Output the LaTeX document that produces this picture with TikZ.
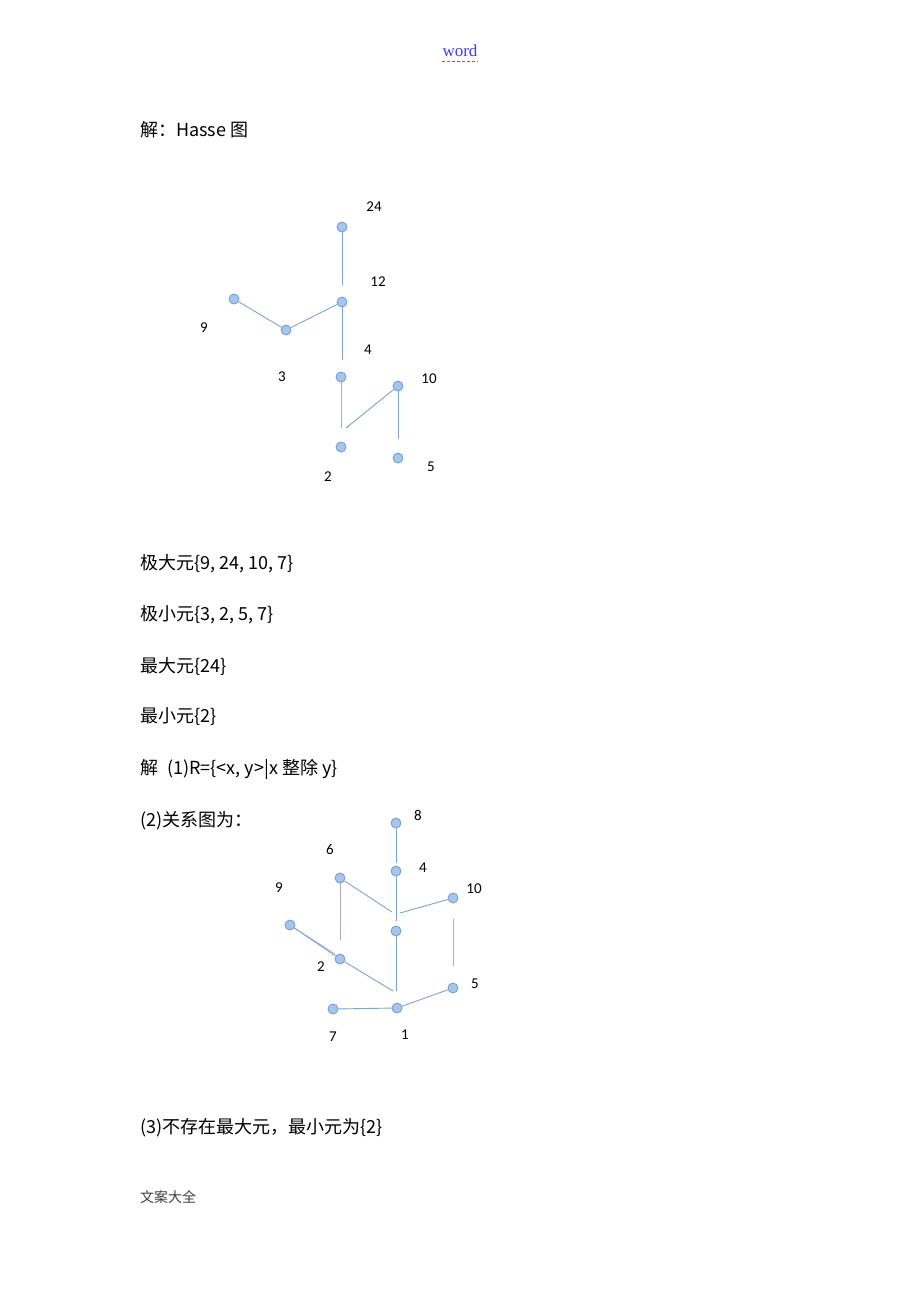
\documentclass[tikz,border=0pt]{standalone}
\usepackage{fontspec}
\setmainfont{Liberation Serif}
\newfontfamily\cjk{Noto Sans CJK SC}
\newfontfamily\lbl{Carlito}
\definecolor{dotfill}{HTML}{A7C4EA}
\definecolor{dotline}{HTML}{6F9AD2}
\definecolor{edgecol}{HTML}{7FA2D0}
\definecolor{pcol}{HTML}{B7A2C8}
\definecolor{linkblue}{RGB}{60,60,240}
\definecolor{linkdash}{RGB}{90,90,240}
\definecolor{footgray}{RGB}{60,60,60}
\begin{document}
\begin{tikzpicture}[x=1pt,y=-1pt,
  dot/.style={circle,draw=dotline,fill=dotfill,line width=0.8pt,minimum size=10pt,inner sep=0pt},
  edge/.style={draw=edgecol,line width=0.9pt},
  pedge/.style={draw=pcol,line width=0.9pt},
  lab/.style={font=\lbl\fontsize{15}{17}\selectfont,text=black,inner sep=0pt},
  txt/.style={font=\cjk\fontsize{18}{21}\selectfont,anchor=west,inner sep=0pt,text=black}]
\useasboundingbox (0,0) rectangle (920,1302);
\fill[white] (0,0) rectangle (920,1302);
% header
\node[font=\fontsize{17}{19}\selectfont,text=linkblue,inner sep=0pt] (hdr) at (460,51) {word};
\coordinate (u1) at (442,61);
\coordinate (u2) at (478,61);
\draw[linkdash,line width=0.8pt,dash pattern=on 3pt off 2pt] (u1) -- (u2);
\node[txt] (t0) at (140,130) {解：Hasse 图};
% Hasse graph 1
\node[dot] (g24) at (342,227) {};
\node[dot] (g12) at (342,302) {};
\node[dot] (g9) at (234,299) {};
\node[dot] (g3) at (286,330) {};
\node[dot] (g4) at (341,377) {};
\node[dot] (g10) at (398,386) {};
\node[dot] (g2) at (341,447) {};
\node[dot] (g5) at (398,458) {};
\coordinate (e24) at (342,285);
\coordinate (e12) at (342,360);
\coordinate (e4) at (341,428);
\coordinate (e2) at (346,428);
\coordinate (e10) at (398,439);
\draw[edge] (g24) -- (e24);
\draw[edge] (g9) -- (g3);
\draw[edge] (g3) -- (g12);
\draw[edge] (g12) -- (e12);
\draw[pedge] (g4) -- (e4);
\draw[edge] (e2) -- (g10);
\draw[edge] (g10) -- (e10);
\node[lab] (l24) at (374,207) {24};
\node[lab] (l12) at (378,282) {12};
\node[lab] (l9) at (204,328) {9};
\node[lab] (l3) at (282,377) {3};
\node[lab] (l4) at (368,350) {4};
\node[lab] (l10) at (429,379) {10};
\node[lab] (l2) at (328,477) {2};
\node[lab] (l5) at (431,467) {5};
% text lines
\node[txt] (t1) at (140,564) {极大元\{9, 24, 10, 7\}};
\node[txt] (t2) at (140,615) {极小元\{3, 2, 5, 7\}};
\node[txt] (t3) at (140,666) {最大元\{24\}};
\node[txt] (t4) at (140,717) {最小元\{2\}};
\node[txt] (t5) at (140,769) {解\hspace{9pt}(1)R=\{<x, y>|x 整除 y\}};
\node[txt] (t6) at (140,821) {(2)关系图为：};
% graph 2
\node[dot] (h8) at (396,823) {};
\node[dot] (h4) at (396,871) {};
\node[dot] (h6) at (340,878) {};
\node[dot] (h9) at (290,925) {};
\node[dot] (hc) at (396,931) {};
\node[dot] (h10) at (453,898) {};
\node[dot] (h2) at (340,959) {};
\node[dot] (h5) at (453,988) {};
\node[dot] (h7) at (333,1009) {};
\node[dot] (h1) at (397,1008) {};
\coordinate (f8) at (396,863);
\coordinate (f4) at (396,921);
\coordinate (f6) at (392,912);
\coordinate (f10) at (400,913);
\coordinate (f6d) at (340,940);
\coordinate (f2) at (393,991);
\coordinate (fc) at (396,991);
\coordinate (f10a) at (453,919);
\coordinate (f10b) at (453,966);
\coordinate (f9b) at (335,954);
\draw[edge] (h8) -- (f8);
\draw[edge] (h4) -- (f4);
\draw[edge] (h6) -- (f6);
\draw[edge] (f10) -- (h10);
\draw[pedge] (h6) -- (f6d);
\draw[edge] (h9) -- (h2);
\draw[edge,line width=0.6pt] ([yshift=1.2pt]h9.south east) -- (f9b);
\draw[edge] (h2) -- (f2);
\draw[edge] (hc) -- (fc);
\draw[pedge] (f10a) -- (f10b);
\draw[edge] (h7) -- (h1);
\draw[edge] (h1) -- (h5);
\node[lab] (m8) at (418,815) {8};
\node[lab] (m4) at (423,868) {4};
\node[lab] (m6) at (330,849) {6};
\node[lab] (m9) at (279,888) {9};
\node[lab] (m10) at (474,889) {10};
\node[lab] (m2) at (321,967) {2};
\node[lab] (m5) at (475,984) {5};
\node[lab] (m7) at (333,1037) {7};
\node[lab] (m1) at (405,1035) {1};
\node[txt] (t7) at (140,1128) {(3)不存在最大元，最小元为\{2\}};
\node[font=\cjk\fontsize{14}{16}\selectfont,text=footgray,anchor=west,inner sep=0pt] (ft) at (140,1197) {文案大全};
\end{tikzpicture}
\end{document}
